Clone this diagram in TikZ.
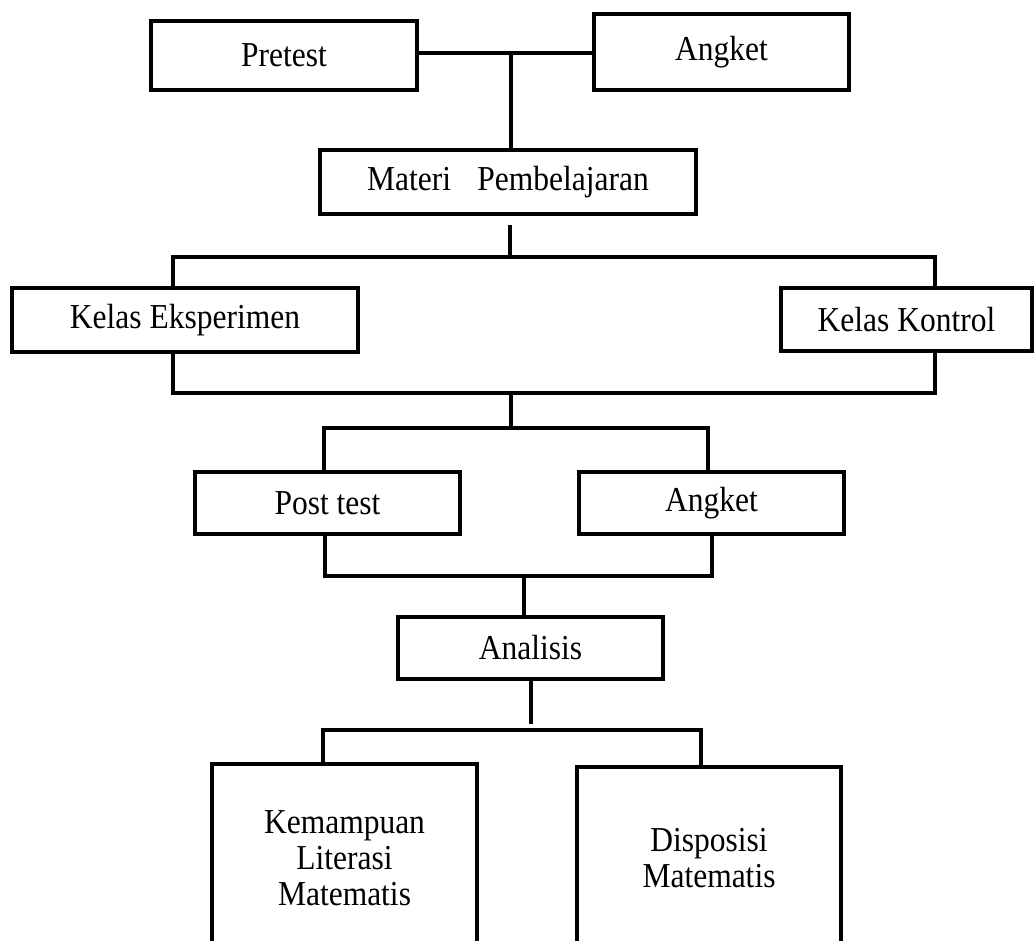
\documentclass[tikz,border=0pt]{standalone}
\usepackage{fontspec}
\setmainfont{Liberation Serif}[FakeStretch=0.9]
\usepackage{tikz}

\begin{document}
\begin{tikzpicture}[
      x=0.5pt, y=-0.5pt,
      font=\fontsize{17.5}{18}\selectfont,
      box/.style={draw, line width=2.4pt, align=center, inner sep=0pt},
      conn/.style={line width=2.2pt}
    ]
    \useasboundingbox (0,0) rectangle (1034,941);
    \clip (0,0) rectangle (1034,941);
    \node[box, minimum width=133pt, minimum height=34.5pt] (pre) at (284,55.5) {Pretest};
    \node[box, minimum width=127.5pt, minimum height=38pt] (ang1) at (721.5,52) {Angket};
    \node[box, minimum width=188pt, minimum height=32pt] (mat) at (508,182) {Materi\hspace{0.75em}Pembelajaran};
    \node[box, minimum width=173pt, minimum height=32pt] (ke) at (185,320) {Kelas Eksperimen};
    \node[box, minimum width=125.5pt, minimum height=31.5pt] (kk) at (906.5,319.5) {Kelas Kontrol};
    \node[box, minimum width=132.5pt, minimum height=31pt] (pt) at (327.5,503) {Post test};
    \node[box, minimum width=132.5pt, minimum height=31pt] (ang2) at (711.5,503) {Angket};
    \node[box, minimum width=132.5pt, minimum height=31pt] (ana) at (530.5,648) {Analisis};
    \node[box, minimum width=132.5pt, minimum height=94pt] (kem) at (344.5,858) {Kemampuan\\Literasi\\Matematis};
    \node[box, minimum width=132pt, minimum height=91.5pt] (dis) at (709,858.5) {Disposisi\\Matematis};

    \coordinate (j1) at (511,53);
    \coordinate (j2) at (510,257);
    \coordinate (l2) at (173,257);
    \coordinate (r2) at (935,257);
    \coordinate (l3) at (173,393);
    \coordinate (r3) at (935,393);
    \coordinate (j3) at (511,393);
    \coordinate (j4) at (511,428);
    \coordinate (l4) at (324,428);
    \coordinate (r4) at (708,428);
    \coordinate (l5) at (325,576);
    \coordinate (r5) at (712,576);
    \coordinate (j5) at (524,576);
    \coordinate (j6) at (531,724);
    \coordinate (l6) at (323,730);
    \coordinate (r6) at (701,730);

    \draw[conn] (pre.east |- j1) -- (ang1.west |- j1);
    \draw[conn] (j1) -- (j1 |- mat.north);
    \draw[conn, shorten <=4.5pt] (j2 |- mat.south) -- (j2);
    \draw[conn] (l2 |- ke.north) -- (l2) -- (r2) -- (r2 |- kk.north);
    \draw[conn] (l3 |- ke.south) -- (l3) -- (r3) -- (r3 |- kk.south);
    \draw[conn] (j3) -- (j4);
    \draw[conn] (l4 |- pt.north) -- (l4) -- (r4) -- (r4 |- ang2.north);
    \draw[conn] (l5 |- pt.south) -- (l5) -- (r5) -- (r5 |- ang2.south);
    \draw[conn] (j5) -- (j5 |- ana.north);
    \draw[conn] (j6 |- ana.south) -- (j6);
    \draw[conn] (l6 |- kem.north) -- (l6) -- (r6) -- (r6 |- dis.north);
  \end{tikzpicture}
\end{document}
